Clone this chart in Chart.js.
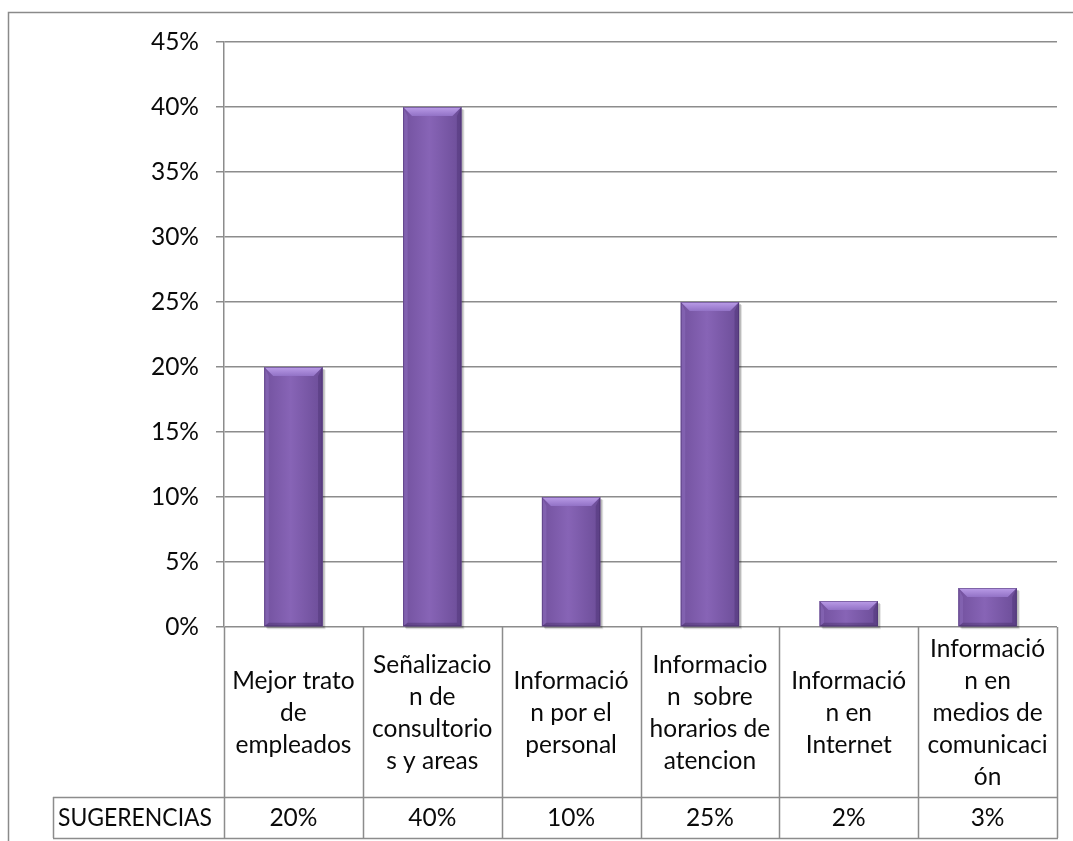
<!DOCTYPE html>
<html>
<head>
<meta charset="utf-8">
<script src="https://cdn.jsdelivr.net/npm/chart.js@4"></script>
<style>
  html, body { margin: 0; padding: 0; background: #ffffff; }
  #wrap { width: 1073px; height: 841px; }
</style>
</head>
<body>
<div id="wrap"><canvas id="c" width="1073" height="841"></canvas></div>
<script>
// Suggestion categories (wrapped as they appear in the table header)
const categories = [
  ["Mejor trato", "de", "empleados"],
  ["Señalizacio", "n de", "consultorio", "s y areas"],
  ["Informació", "n por el", "personal"],
  ["Informacio", "n  sobre", "horarios de", "atencion"],
  ["Informació", "n en", "Internet"],
  ["Informació", "n en", "medios de", "comunicaci", "ón"]
];
const seriesName = "SUGERENCIAS";
const values = [20, 40, 10, 25, 2, 3];
const yMax = 45;
const yStep = 5;

const FONT = "Lato, 'Open Sans', 'DejaVu Sans', sans-serif";
const FONT_SIZE = 24.5;
const LINE = "#8c8c8c";

// Page frame, white background
const framePlugin = {
  id: 'frame',
  beforeDraw(chart) {
    const ctx = chart.ctx;
    ctx.save();
    ctx.fillStyle = '#ffffff';
    ctx.fillRect(0, 0, chart.width, chart.height);
    ctx.strokeStyle = '#8a8a8a';
    ctx.lineWidth = 1.5;
    ctx.beginPath();
    ctx.moveTo(8.5, chart.height + 2);
    ctx.lineTo(8.5, 12.5);
    ctx.lineTo(chart.width + 2, 12.5);
    ctx.stroke();
    ctx.restore();
  }
};

// Bevelled bars drawn over the library's bar rectangles
const bevelPlugin = {
  id: 'bevel',
  beforeDatasetsDraw(chart) {
    const ctx = chart.ctx;
    const meta = chart.getDatasetMeta(0);
    ctx.save();
    meta.data.forEach(bar => {
      const p = bar.getProps(['x', 'y', 'base', 'width'], true);
      const l = p.x - p.width / 2, t = p.y;
      ctx.fillStyle = 'rgba(0,0,0,0.18)';
      ctx.fillRect(l + 2, t + 2, p.width, p.base - t);
      ctx.fillStyle = 'rgba(0,0,0,0.10)';
      ctx.fillRect(l + 3, t + 3, p.width, p.base - t);
    });
    ctx.restore();
  },
  afterDatasetsDraw(chart) {
    const ctx = chart.ctx;
    const meta = chart.getDatasetMeta(0);
    ctx.save();
    meta.data.forEach(bar => {
      const p = bar.getProps(['x', 'y', 'base', 'width'], true);
      const l = p.x - p.width / 2, r = p.x + p.width / 2;
      const t = p.y, b = p.base;
      const h = b - t;
      const bv = Math.min(9, h / 2.5, p.width / 4);

      // body: darker edges, lighter middle
      const g = ctx.createLinearGradient(l, 0, r, 0);
      g.addColorStop(0, '#73529f');
      g.addColorStop(0.45, '#8764b6');
      g.addColorStop(1, '#6c4d98');
      ctx.fillStyle = g;
      ctx.fillRect(l, t, p.width, h);

      // left bevel
      ctx.fillStyle = 'rgba(160,130,210,0.30)';
      ctx.beginPath();
      ctx.moveTo(l, t); ctx.lineTo(l + bv * 0.5, t + bv); ctx.lineTo(l + bv * 0.5, b - bv * 0.4); ctx.lineTo(l, b);
      ctx.closePath(); ctx.fill();

      // right bevel
      ctx.fillStyle = 'rgba(60,35,95,0.30)';
      ctx.beginPath();
      ctx.moveTo(r, t); ctx.lineTo(r - bv * 0.5, t + bv); ctx.lineTo(r - bv * 0.5, b - bv * 0.4); ctx.lineTo(r, b);
      ctx.closePath(); ctx.fill();

      // bottom bevel
      ctx.fillStyle = 'rgba(50,30,80,0.30)';
      ctx.beginPath();
      ctx.moveTo(l, b); ctx.lineTo(l + bv * 0.5, b - bv * 0.4); ctx.lineTo(r - bv * 0.5, b - bv * 0.4); ctx.lineTo(r, b);
      ctx.closePath(); ctx.fill();

      // top bevel
      const gt = ctx.createLinearGradient(0, t, 0, t + bv);
      gt.addColorStop(0, '#bb9de8');
      gt.addColorStop(1, '#9272c6');
      ctx.fillStyle = gt;
      ctx.beginPath();
      ctx.moveTo(l, t); ctx.lineTo(r, t); ctx.lineTo(r - bv, t + bv); ctx.lineTo(l + bv, t + bv);
      ctx.closePath(); ctx.fill();

      // outline
      ctx.strokeStyle = 'rgba(70,45,105,0.5)';
      ctx.lineWidth = 1;
      ctx.strokeRect(l + 0.5, t + 0.5, p.width - 1, h - 1);
    });
    ctx.restore();
  }
};

// Data table below the plot: category header row and value row
const tablePlugin = {
  id: 'dataTable',
  afterDraw(chart) {
    const ctx = chart.ctx;
    const xs = chart.scales.x;
    const area = chart.chartArea;
    const n = categories.length;
    const colW = (area.right - area.left) / n;
    const headTop = area.bottom;
    const headBottom = headTop + 170;
    const rowBottom = headBottom + 41;
    const labelLeft = 53;

    ctx.save();
    ctx.strokeStyle = LINE;
    ctx.lineWidth = 1.5;
    ctx.beginPath();
    // vertical column lines
    for (let i = 0; i <= n; i++) {
      const xv = xs.getPixelForValue(Math.min(i, n - 1)) + (i === n ? colW / 2 : -colW / 2);
      ctx.moveTo(Math.round(xv) + 0.5, headTop);
      ctx.lineTo(Math.round(xv) + 0.5, rowBottom);
    }
    // left label cell
    ctx.moveTo(labelLeft + 0.5, headBottom);
    ctx.lineTo(labelLeft + 0.5, rowBottom);
    // row separators
    ctx.moveTo(labelLeft, headBottom + 0.5);
    ctx.lineTo(area.right + 1, headBottom + 0.5);
    ctx.moveTo(labelLeft, rowBottom + 0.5);
    ctx.lineTo(area.right + 1, rowBottom + 0.5);
    ctx.stroke();

    ctx.fillStyle = '#0a0a0a';
    ctx.font = FONT_SIZE + 'px ' + FONT;
    ctx.textAlign = 'center';
    ctx.textBaseline = 'middle';
    const lh = 32;
    categories.forEach((lines, i) => {
      const cx = xs.getPixelForValue(i);
      const cy = (headTop + headBottom) / 2;
      const start = cy - (lines.length - 1) * lh / 2;
      lines.forEach((s, k) => ctx.fillText(s, cx, start + k * lh + 1, colW - 8));
      ctx.fillText(values[i] + '%', cx, (headBottom + rowBottom) / 2 + 1);
    });
    ctx.textAlign = 'left';
    const firstEdge = xs.getPixelForValue(0) - colW / 2;
    ctx.fillText(seriesName, labelLeft + 5, (headBottom + rowBottom) / 2 + 1, firstEdge - labelLeft - 17);
    ctx.restore();
  }
};

new Chart(document.getElementById('c'), {
  type: 'bar',
  data: {
    labels: categories,
    datasets: [{
      label: seriesName,
      data: values,
      backgroundColor: '#7b5aa8',
      borderWidth: 0,
      categoryPercentage: 1,
      barPercentage: 0.42
    }]
  },
  options: {
    responsive: false,
    devicePixelRatio: 1,
    animation: false,
    layout: { padding: { left: 0, top: 42, right: 16, bottom: 0 } },
    plugins: { legend: { display: false }, tooltip: { enabled: false } },
    scales: {
      x: {
        ticks: { display: false },
        grid: { display: false },
        border: { display: false },
        afterFit(scale) { scale.height = 214; }
      },
      y: {
        min: 0,
        max: yMax,
        ticks: {
          stepSize: yStep,
          padding: 17,
          color: '#0a0a0a',
          font: { family: FONT, size: FONT_SIZE },
          callback: v => v + '%'
        },
        grid: { color: LINE, lineWidth: 1.5, tickLength: 8 },
        border: { color: LINE, width: 1.5 },
        afterFit(scale) { scale.width = 224; }
      }
    }
  },
  plugins: [framePlugin, bevelPlugin, tablePlugin]
});
</script>
</body>
</html>
